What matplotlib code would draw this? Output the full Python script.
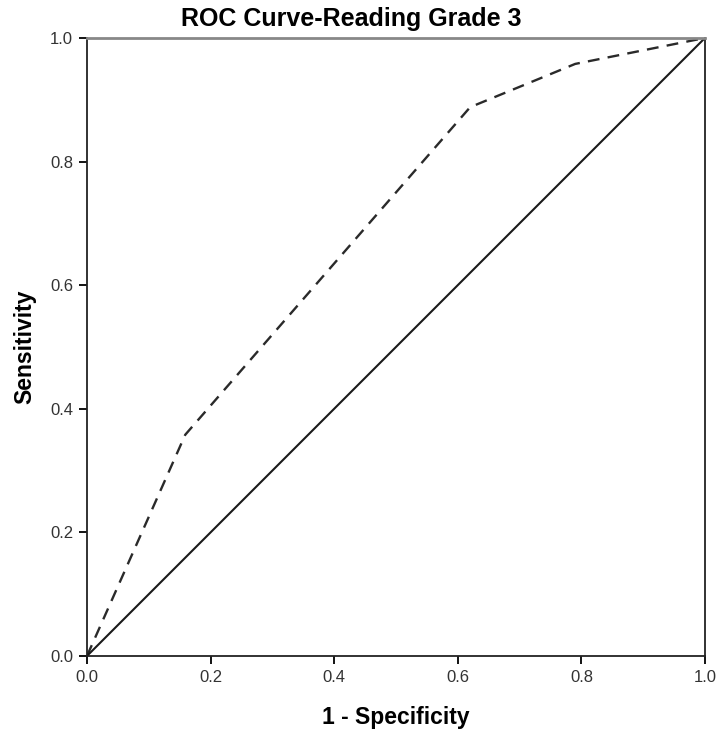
import matplotlib
matplotlib.use("Agg")
import matplotlib.pyplot as plt

# ROC curve points
fpr = [0.0, 0.159, 0.62, 0.79, 1.0]
tpr = [0.0, 0.358, 0.888, 0.958, 1.0]
ref_line = [0.0, 1.0]
ticks = [0.0, 0.2, 0.4, 0.6, 0.8, 1.0]
tick_labels = ["0.0", "0.2", "0.4", "0.6", "0.8", "1.0"]

plt.rcParams['font.family'] = ['Liberation Sans', 'DejaVu Sans']

fig = plt.figure(figsize=(7.16, 7.30), dpi=100)
ax = fig.add_axes([0.1215, 0.1014, 0.8631, 0.8466])

ax.plot(fpr, tpr, color='#2a2a2a', linestyle=(0, (5, 3.5)), linewidth=1.7)
ax.plot(ref_line, ref_line, color='#1a1a1a', linewidth=1.5)

ax.set_xlim(0, 1)
ax.set_ylim(0, 1)
ax.set_xticks(ticks)
ax.set_xticklabels(tick_labels)
ax.set_yticks(ticks)
ax.set_yticklabels(tick_labels)
ax.tick_params(direction='out', length=6, width=1.3, labelsize=12,
               labelcolor='#333333', pad=4)

for side in ['left', 'bottom', 'right']:
    ax.spines[side].set_linewidth(1.3)
    ax.spines[side].set_color('#222222')
ax.spines['top'].set_linewidth(2.0)
ax.spines['top'].set_color('#888888')

ax.set_xlabel("1 - Specificity", fontsize=16.5, fontweight='bold', labelpad=15)
ax.set_ylabel("Sensitivity", fontsize=16.5, fontweight='bold', labelpad=10)
fig.text(0.49, 0.974, "ROC Curve-Reading Grade 3", fontsize=18, fontweight='bold',
         ha='center', va='center')

fig.savefig("out.png", dpi=100)
